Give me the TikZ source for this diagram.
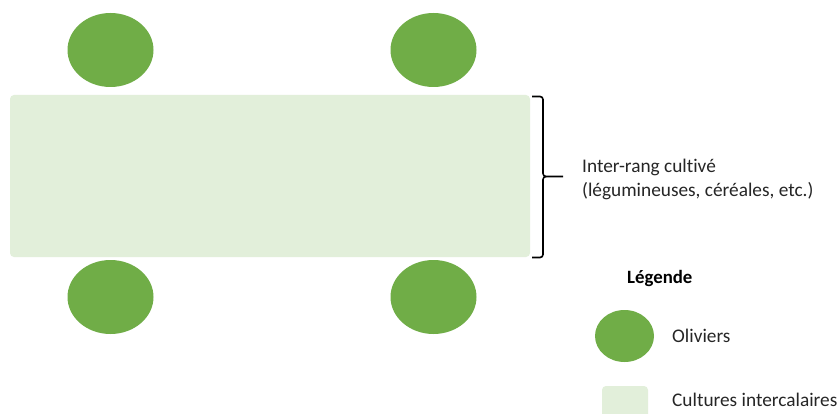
\documentclass[tikz,border=0pt]{standalone}
\usepackage{fontspec}
\setmainfont{Carlito}[Ligatures=NoCommon]
\begin{document}
\begin{tikzpicture}[x=1pt,y=-1pt,
  olive/.style={fill=olivegreen,draw=none},
  crop/.style={fill=cropgreen,draw=none,rounded corners=4pt},
  lbl/.style={anchor=west,inner sep=0pt,font=\fontsize{19.3}{24}\selectfont,text=textgray},
  bracestyle/.style={draw=black,line width=1.6pt,line join=round}]
\definecolor{olivegreen}{HTML}{70AD47}
\definecolor{cropgreen}{HTML}{E2EFDA}
\definecolor{textgray}{HTML}{262626}
\useasboundingbox (0,0) rectangle (840,414);
\fill[white] (0,0) rectangle (840,414);
% field
\node[crop,minimum width=520pt,minimum height=162pt,inner sep=0pt] (field) at (270,176) {};
% olive trees
\draw[olive] (110.5,50) ellipse [x radius=43, y radius=37];
\node (o1) at (110.5,50) {};
\draw[olive] (433.5,50) ellipse [x radius=43, y radius=37];
\node (o2) at (433.5,50) {};
\draw[olive] (110.5,297) ellipse [x radius=43, y radius=37];
\node (o3) at (110.5,297) {};
\draw[olive] (433.5,297) ellipse [x radius=43, y radius=37];
\node (o4) at (433.5,297) {};
% brace
\coordinate (bt) at (532,96.5);
\coordinate (bb) at (532,257.5);
\coordinate (tip) at (563,176.5);
\draw[bracestyle] (bt) -- (540,96.5) to[out=0,in=90] (543,99.5) -- (543,173.5) to[out=-90,in=180] (546,176.5) -- (tip);
\draw[bracestyle] (546,176.5) to[out=180,in=90] (543,179.5) -- (543,254.5) to[out=-90,in=0] (540,257.5) -- (bb);
% brace label
\node[lbl,align=left] (lab) at (582,179) {Inter-rang cultivé\\(légumineuses, céréales, etc.)};
% legend
\node[lbl,font=\fontsize{18.8}{22}\selectfont\bfseries,text=black] (leg) at (627,278) {Légende};
\draw[olive] (624.5,336) ellipse [x radius=29.5, y radius=26];
\node (lo) at (624.5,336) {};
\node[lbl] (lot) at (672,336) {Oliviers};
\fill[cropgreen,rounded corners=4pt] (602,386) rectangle (648,420);
\node (lc) at (625,400) {};
\node[lbl] (lct) at (672,400) {Cultures intercalaires};
\end{tikzpicture}
\end{document}
